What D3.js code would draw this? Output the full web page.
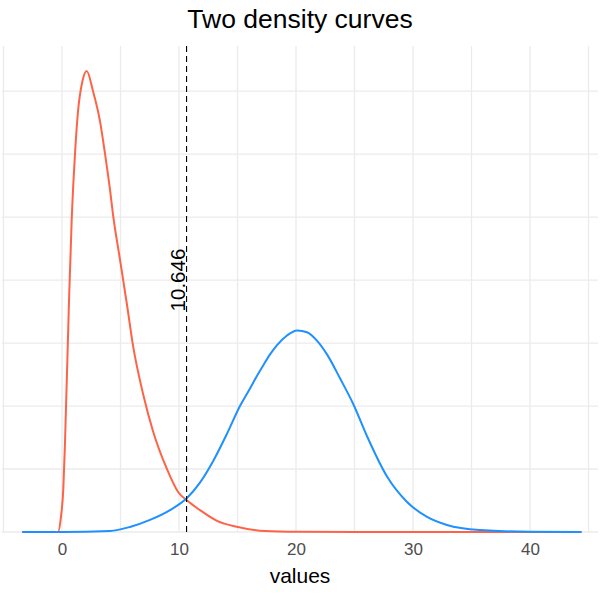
<!DOCTYPE html>
<html>
<head>
<meta charset="utf-8">
<script src="https://cdn.jsdelivr.net/npm/d3@7"></script>
<style>
  html, body { margin: 0; padding: 0; background: #fff; }
  text { font-family: "Liberation Sans", Arial, Helvetica, sans-serif; }
</style>
</head>
<body>
<svg id="chart" width="600" height="600"></svg>
<script>
// ---- data ----
const titleText = "Two density curves";
const xLabel = "values";
const xTicks = [0, 10, 20, 30, 40];
const xMinor = [-5, 5, 15, 25, 35, 45];
const yGrid = [0, 0.025, 0.05, 0.075, 0.1, 0.125, 0.15, 0.175];
const cutValue = 10.646;

// red series (skewed curve): x values and density values
const redX = [-3.4, -0.34, -0.09, 0.11, 0.26, 0.60, 0.83, 1.11, 1.37, 1.75, 2.11, 2.65, 3.25, 3.68, 4.10, 4.36, 4.96, 5.56, 6.07, 6.92, 7.78, 8.97, 9.91, 10.77, 11.79, 13.25, 15.04, 17.35, 20.1, 25, 44.4];
const redY = [0, 0, 0.006, 0.017, 0.036, 0.092, 0.124, 0.150, 0.167, 0.179, 0.183, 0.175, 0.163, 0.150, 0.136, 0.126, 0.108, 0.090, 0.074, 0.055, 0.040, 0.025, 0.0160, 0.0122, 0.0087, 0.0044, 0.002, 0.0004, 0.0001, 0, 0];

// blue series (bell curve)
const blueX = [-3.4, 0, 4.10, 5.81, 7.52, 9.23, 10.68, 11.79, 12.9, 14.1, 15.21, 16.07, 16.67, 17.18, 17.78, 18.38, 19.23, 20.09, 20.94, 21.88, 22.65, 23.76, 24.87, 26.07, 27.78, 29.49, 31.2, 32.9, 35.7, 40, 44.4];
const blueY = [0, 0, 0.0004, 0.002, 0.0048, 0.0087, 0.0135, 0.0196, 0.028, 0.039, 0.050, 0.057, 0.062, 0.066, 0.0705, 0.0742, 0.078, 0.080, 0.0793, 0.0755, 0.0705, 0.061, 0.051, 0.038, 0.022, 0.0119, 0.006, 0.0028, 0.0008, 0.0001, 0];

// ---- layout ----
const svg = d3.select("#chart");
const pLeft = 2, pRight = 598, pTop = 46, pBottom = 532;

const x = d3.scaleLinear().domain([-5.128, 45.81]).range([pLeft, pRight]);
const y = d3.scaleLinear().domain([0, 0.1929]).range([pBottom, pTop]);

const grid = svg.append("g");
// vertical grid lines (major and minor)
grid.selectAll("line.vx").data(xTicks.concat(xMinor)).join("line")
  .attr("x1", d => x(d)).attr("x2", d => x(d))
  .attr("y1", pTop).attr("y2", pBottom)
  .attr("stroke", "#ebebeb").attr("stroke-width", 1.3);
// horizontal grid lines
grid.selectAll("line.hy").data(yGrid).join("line")
  .attr("x1", pLeft).attr("x2", pRight)
  .attr("y1", d => y(d)).attr("y2", d => y(d))
  .attr("stroke", "#ebebeb").attr("stroke-width", 1.3);

const line = d3.line().x(d => x(d[0])).y(d => y(d[1])).curve(d3.curveMonotoneX);

svg.append("path")
  .datum(redX.map((v, i) => [v, redY[i]]))
  .attr("d", line).attr("fill", "none")
  .attr("stroke", "tomato").attr("stroke-width", 2);

svg.append("path")
  .datum(blueX.map((v, i) => [v, blueY[i]]))
  .attr("d", line).attr("fill", "none")
  .attr("stroke", "dodgerblue").attr("stroke-width", 2);

// dashed cut line
svg.append("line")
  .attr("x1", x(cutValue)).attr("x2", x(cutValue))
  .attr("y1", pTop).attr("y2", pBottom)
  .attr("stroke", "#000").attr("stroke-width", 1.1)
  .attr("stroke-dasharray", "6,4");

svg.append("text")
  .attr("transform", `translate(${x(cutValue) - 2},${y(0.1)}) rotate(-90)`)
  .attr("text-anchor", "middle")
  .attr("font-size", 20.5)
  .attr("fill", "#000")
  .text(cutValue.toFixed(3));

// x axis tick labels
const xAxis = d3.axisBottom(x).tickValues(xTicks).tickSize(0).tickPadding(0);
const ax = svg.append("g").attr("transform", `translate(0,${pBottom})`).call(xAxis);
ax.select(".domain").remove();
ax.selectAll("text")
  .attr("y", 23).attr("dy", 0)
  .attr("font-size", 17).attr("fill", "#4d4d4d")
  .attr("font-family", "Liberation Sans, Arial, sans-serif");

// axis title
svg.append("text")
  .attr("x", (pLeft + pRight) / 2).attr("y", 583)
  .attr("text-anchor", "middle")
  .attr("font-size", 21).attr("fill", "#000")
  .text(xLabel);

// title
svg.append("text")
  .attr("x", (pLeft + pRight) / 2).attr("y", 28)
  .attr("text-anchor", "middle")
  .attr("font-size", 26.5).attr("fill", "#000")
  .text(titleText);
</script>
</body>
</html>
